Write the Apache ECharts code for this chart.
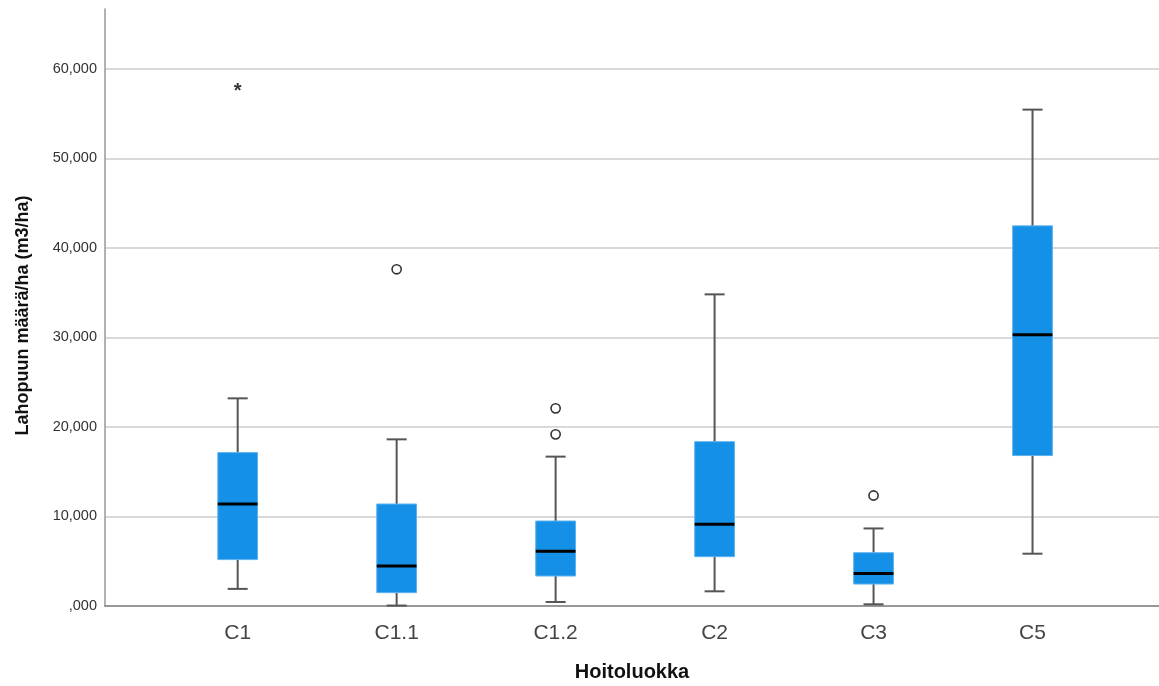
<!DOCTYPE html>
<html>
<head>
<meta charset="utf-8">
<script src="https://cdn.jsdelivr.net/npm/echarts@6/dist/echarts.min.js"></script>
<style>
html,body{margin:0;padding:0;background:#fff;}
#chart{width:1159px;height:686px;}
</style>
</head>
<body>
<div id="chart"></div>
<script>
const categories = ['C1', 'C1.1', 'C1.2', 'C2', 'C3', 'C5'];
const whiskerLow  = [1910, 50, 450, 1640, 190, 5840];
const q1          = [5180, 1490, 3350, 5510, 2450, 16800];
const medians     = [11390, 4470, 6100, 9120, 3640, 30300];
const q3          = [17130, 11390, 9490, 18350, 5950, 42450];
const whiskerHigh = [23190, 18610, 16680, 34800, 8660, 55430];
const outlierCat  = [1, 2, 2, 4];
const outlierVal  = [37600, 22070, 19170, 12340];
const extremeCat  = [0];
const extremeVal  = [57770];
const yTicks = [0, 10000, 20000, 30000, 40000, 50000, 60000];
const yLabels = [',000', '10,000', '20,000', '30,000', '40,000', '50,000', '60,000'];

const FONT = 'Arial, "Liberation Sans", sans-serif';
const Y_MAX = 66667;

const boxData = categories.map((c, i) => [i, whiskerLow[i], q1[i], medians[i], q3[i], whiskerHigh[i]]);
const outlierData = outlierCat.map((c, i) => [c, outlierVal[i]]);
const extremeData = extremeCat.map((c, i) => [c, extremeVal[i]]);

function renderBox(params, api) {
  const idx = api.value(0);
  const lo = api.coord([idx, api.value(1)]);
  const b1 = api.coord([idx, api.value(2)]);
  const md = api.coord([idx, api.value(3)]);
  const b3 = api.coord([idx, api.value(4)]);
  const hi = api.coord([idx, api.value(5)]);
  const band = api.size([1, 0])[0];
  const bw = band * 0.25;
  const cw = band * 0.126;
  const x = lo[0];
  const wStyle = {stroke: '#555555', lineWidth: 2, fill: null};
  return {
    type: 'group',
    children: [
      {type: 'line', shape: {x1: x, y1: hi[1], x2: x, y2: b3[1]}, style: wStyle},
      {type: 'line', shape: {x1: x, y1: b1[1], x2: x, y2: lo[1]}, style: wStyle},
      {type: 'line', shape: {x1: x - cw / 2, y1: hi[1], x2: x + cw / 2, y2: hi[1]}, style: wStyle},
      {type: 'line', shape: {x1: x - cw / 2, y1: lo[1], x2: x + cw / 2, y2: lo[1]}, style: wStyle},
      {type: 'rect', shape: {x: x - bw / 2, y: b3[1], width: bw, height: b1[1] - b3[1]},
        style: {fill: '#1490e6', stroke: '#5db2ef', lineWidth: 1}},
      {type: 'line', shape: {x1: x - bw / 2, y1: md[1], x2: x + bw / 2, y2: md[1]},
        style: {stroke: '#000000', lineWidth: 3}}
    ]
  };
}

function renderOutlier(params, api) {
  const p = api.coord([api.value(0), api.value(1)]);
  return {type: 'circle', shape: {cx: p[0], cy: p[1], r: 4.6},
    style: {fill: '#ffffff', stroke: '#333333', lineWidth: 1.6}};
}

function renderExtreme(params, api) {
  const p = api.coord([api.value(0), api.value(1)]);
  return {type: 'text', x: p[0], y: p[1] + 3,
    style: {text: '*', fill: '#333333', font: 'bold 20px ' + FONT, align: 'center', verticalAlign: 'middle'}};
}

const chart = echarts.init(document.getElementById('chart'), null, {renderer: 'canvas'});
chart.setOption({
  animation: false,
  backgroundColor: '#ffffff',
  grid: [
    {left: 105, right: 0, top: 9, bottom: 80, containLabel: false, outerBoundsMode: 'none'},
    {left: 158.2, right: 47, top: 9, bottom: 80, containLabel: false, outerBoundsMode: 'none'}
  ],
  xAxis: [
    {
      gridIndex: 0, type: 'value', min: 0, max: 1,
      axisLine: {show: true, onZero: false, lineStyle: {color: '#777777', width: 1.5}},
      axisTick: {show: false}, axisLabel: {show: false}, splitLine: {show: false},
      name: 'Hoitoluokka', nameLocation: 'middle', nameGap: 56,
      nameTextStyle: {fontFamily: FONT, fontSize: 20, fontWeight: 'bold', color: '#111111'}
    },
    {
      gridIndex: 1, type: 'category', data: categories, boundaryGap: true,
      axisLine: {show: false}, axisTick: {show: false}, splitLine: {show: false},
      axisLabel: {fontFamily: FONT, fontSize: 21, color: '#444444', margin: 17}
    }
  ],
  yAxis: [
    {
      gridIndex: 0, type: 'value', min: 0, max: Y_MAX, interval: 10000,
      axisLine: {show: true, lineStyle: {color: '#999999', width: 1.5}},
      axisTick: {show: false},
      axisLabel: {
        fontFamily: FONT, fontSize: 14.5, color: '#333333', margin: 8, showMaxLabel: false,
        formatter: function (v) { const k = yTicks.indexOf(v); return k >= 0 ? yLabels[k] : ''; }
      },
      splitLine: {show: true, showMaxLine: false, showMinLine: false, lineStyle: {color: '#cccccc', width: 1.5}},
      name: 'Lahopuun määrä/ha (m3/ha)', nameLocation: 'middle', nameGap: 73, nameRotate: 90,
      nameTextStyle: {fontFamily: FONT, fontSize: 18, fontWeight: 'bold', color: '#111111', padding: [0, 16, 0, 0]}
    },
    {
      gridIndex: 1, type: 'value', min: 0, max: Y_MAX, interval: 10000, show: false,
      splitLine: {show: false}
    }
  ],
  series: [
    {type: 'custom', xAxisIndex: 1, yAxisIndex: 1, data: boxData, renderItem: renderBox,
      encode: {x: 0, y: [1, 2, 3, 4, 5]}, z: 3},
    {type: 'custom', xAxisIndex: 1, yAxisIndex: 1, data: outlierData, renderItem: renderOutlier,
      encode: {x: 0, y: 1}, z: 4},
    {type: 'custom', xAxisIndex: 1, yAxisIndex: 1, data: extremeData, renderItem: renderExtreme,
      encode: {x: 0, y: 1}, z: 4}
  ]
});
</script>
</body>
</html>
